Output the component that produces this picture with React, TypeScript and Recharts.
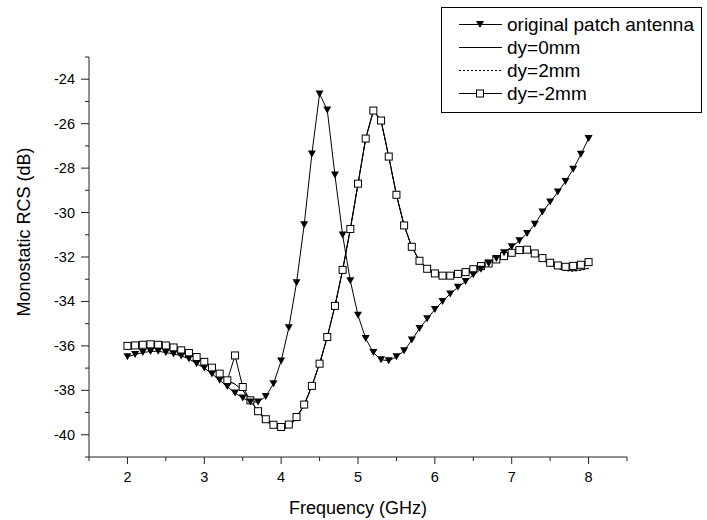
import React from "react";
import { LineChart, Line, XAxis, YAxis, Legend } from "recharts";

const FONT = '"Liberation Sans", Arial, Helvetica, sans-serif';

// frequency in GHz
const freq = [
  2.0, 2.1, 2.2, 2.3, 2.4, 2.5, 2.6, 2.7, 2.8, 2.9,
  3.0, 3.1, 3.2, 3.3, 3.4, 3.5, 3.6, 3.7, 3.8, 3.9,
  4.0, 4.1, 4.2, 4.3, 4.4, 4.5, 4.6, 4.7, 4.8, 4.9,
  5.0, 5.1, 5.2, 5.3, 5.4, 5.5, 5.6, 5.7, 5.8, 5.9,
  6.0, 6.1, 6.2, 6.3, 6.4, 6.5, 6.6, 6.7, 6.8, 6.9,
  7.0, 7.1, 7.2, 7.3, 7.4, 7.5, 7.6, 7.7, 7.8, 7.9,
  8.0,
];

const original = [
  -36.49, -36.39, -36.3, -36.25, -36.24, -36.3, -36.36, -36.45, -36.58, -36.8,
  -37.0, -37.26, -37.55, -37.83, -38.12, -38.34, -38.52, -38.52, -38.28, -37.7,
  -36.68, -35.18, -33.16, -30.55, -27.36, -24.66, -25.38, -28.31, -31.01, -33.07,
  -34.62, -35.67, -36.3, -36.62, -36.67, -36.49, -36.22, -35.74, -35.22, -34.78,
  -34.36, -34.0, -33.66, -33.36, -33.1, -32.8, -32.55, -32.29, -32.07, -31.81,
  -31.54, -31.27, -30.94, -30.53, -29.98, -29.53, -29.08, -28.6, -28.05, -27.38,
  -26.67,
];

const dy0 = [
  -36.0, -35.98, -35.95, -35.93, -35.95, -35.98, -36.07, -36.2, -36.32, -36.5,
  -36.72, -36.98, -37.25, -37.55, -37.72, -38.0, -38.45, -38.96, -39.34, -39.64,
  -39.76, -39.64, -39.25, -38.66, -37.8, -36.8, -35.6, -34.2, -32.58, -30.74,
  -28.7, -26.67, -25.41, -25.86, -27.48, -29.2, -30.58, -31.54, -32.17, -32.53,
  -32.74, -32.84, -32.84, -32.76, -32.68, -32.55, -32.41, -32.29, -32.11, -31.96,
  -31.81, -31.69, -31.68, -31.86, -32.1, -32.34, -32.5, -32.6, -32.62, -32.58,
  -32.5,
];

const dy2 = [
  -36.01, -35.99, -35.96, -35.94, -35.96, -35.99, -36.08, -36.21, -36.33, -36.51,
  -36.73, -36.99, -37.26, -37.56, -37.73, -38.01, -38.46, -38.97, -39.35, -39.66,
  -39.78, -39.66, -39.27, -38.68, -37.83, -36.83, -35.63, -34.24, -32.62, -30.78,
  -28.74, -26.7, -25.44, -25.88, -27.5, -29.22, -30.6, -31.56, -32.19, -32.55,
  -32.76, -32.86, -32.86, -32.78, -32.7, -32.57, -32.43, -32.31, -32.13, -31.98,
  -31.83, -31.71, -31.7, -31.88, -32.12, -32.36, -32.52, -32.62, -32.64, -32.6,
  -32.52,
];

const dyNeg2 = [
  -36.0, -35.98, -35.95, -35.93, -35.95, -35.98, -36.07, -36.2, -36.32, -36.5,
  -36.72, -36.98, -37.25, -37.55, -36.43, -37.85, -38.45, -38.94, -39.3, -39.55,
  -39.65, -39.54, -39.2, -38.64, -37.8, -36.8, -35.6, -34.2, -32.58, -30.74,
  -28.7, -26.67, -25.41, -25.86, -27.48, -29.2, -30.58, -31.54, -32.17, -32.53,
  -32.74, -32.84, -32.84, -32.76, -32.68, -32.55, -32.41, -32.29, -32.11, -31.96,
  -31.81, -31.69, -31.67, -31.84, -32.05, -32.26, -32.38, -32.44, -32.4, -32.35,
  -32.23,
];

const xTicks = [1.5, 2, 2.5, 3, 3.5, 4, 4.5, 5, 5.5, 6, 6.5, 7, 7.5, 8, 8.5];
const yTicks = [
  -41, -40, -39, -38, -37, -36, -35, -34, -33, -32, -31, -30, -29, -28, -27, -26, -25, -24, -23,
];

const data = freq.map((f, i) => ({
  f,
  original: original[i],
  dy0: dy0[i],
  dy2: dy2[i],
  dyNeg2: dyNeg2[i],
}));

function XTick(props: any) {
  const { x, y, payload } = props;
  const major = Number.isInteger(payload.value);
  return (
    <g>
      <line x1={x} y1={y} x2={x} y2={y + (major ? 7 : 4)} stroke="#222" />
      {major && (
        <text x={x} y={y + 25} textAnchor="middle" fontSize={14.5} fontFamily={FONT} fill="#000">
          {payload.value}
        </text>
      )}
    </g>
  );
}

function YTick(props: any) {
  const { x, y, payload } = props;
  const major = payload.value % 2 === 0;
  return (
    <g>
      <line x1={x} y1={y} x2={x - (major ? 8 : 4)} y2={y} stroke="#222" />
      {major && (
        <text x={x - 14} y={y + 5} textAnchor="end" fontSize={14.5} fontFamily={FONT} fill="#000">
          {payload.value}
        </text>
      )}
    </g>
  );
}

function YTitle(props: any) {
  const vb = props.viewBox || { x: 88, y: 57, width: 1, height: 400 };
  const cx = vb.x + vb.width - 59;
  const cy = vb.y + vb.height / 2 - 25;
  return (
    <text
      x={cx}
      y={cy}
      transform={`rotate(-90, ${cx}, ${cy})`}
      textAnchor="middle"
      fontSize={18}
      fontFamily={FONT}
      fill="#000"
    >
      Monostatic RCS (dB)
    </text>
  );
}

function XTitle(props: any) {
  const vb = props.viewBox || { x: 89, y: 457, width: 538 };
  return (
    <text
      x={vb.x + vb.width / 2}
      y={vb.y + 57}
      textAnchor="middle"
      fontSize={18}
      fontFamily={FONT}
      fill="#000"
    >
      Frequency (GHz)
    </text>
  );
}

function Square(props: any) {
  const { cx, cy, index } = props;
  if (cx == null || cy == null) return <g key={index} />;
  return <rect key={index} x={cx - 3.5} y={cy - 3.5} width={7} height={7} fill="#fff" stroke="#000" strokeWidth={1} />;
}

function Tri(props: any) {
  const { cx, cy, index } = props;
  if (cx == null || cy == null) return <g key={index} />;
  return <path key={index} d={`M${cx - 4},${cy - 3.5} L${cx + 4},${cy - 3.5} L${cx},${cy + 3.5} Z`} fill="#000" />;
}

const legendRows = [
  { name: "original patch antenna", kind: "tri" },
  { name: "dy=0mm", kind: "solid" },
  { name: "dy=2mm", kind: "dot" },
  { name: "dy=-2mm", kind: "square" },
];

function LegendBox() {
  return (
    <svg width={262} height={107} style={{ display: "block" }}>
      <rect x={0.5} y={0.5} width={260} height={105} fill="#fff" stroke="#000" />
      {legendRows.map((r, i) => {
        const ly = 17.5 + i * 23;
        return (
          <g key={r.name}>
            <line
              x1={18}
              x2={61}
              y1={ly}
              y2={ly}
              stroke="#000"
              strokeWidth={1}
              strokeDasharray={r.kind === "dot" ? "2 2" : undefined}
            />
            {r.kind === "tri" && <Tri cx={39} cy={ly} index={0} />}
            {r.kind === "square" && <Square cx={39} cy={ly} index={0} />}
            <text x={66} y={ly + 6.5} fontSize={19} fontFamily={FONT} fill="#000">
              {r.name}
            </text>
          </g>
        );
      })}
    </svg>
  );
}

export default function App() {
  return (
    <div style={{ position: "absolute", left: 0, top: 0, width: 707, height: 520, background: "#fff" }}>
      <LineChart
        width={707}
        height={520}
        data={data}
        margin={{ top: 57, right: 80, bottom: 62, left: 88 }}
      >
        <XAxis
          dataKey="f"
          type="number"
          domain={[1.5, 8.5]}
          ticks={xTicks}
          interval={0}
          height={1}
          tickSize={0}
          tickMargin={0}
          tickLine={false}
          tick={<XTick />}
          axisLine={{ stroke: "#222" }}
          label={{ content: <XTitle /> }}
        />
        <YAxis
          type="number"
          domain={[-41, -23]}
          ticks={yTicks}
          interval={0}
          width={1}
          tickSize={0}
          tickMargin={0}
          tickLine={false}
          tick={<YTick />}
          axisLine={{ stroke: "#222" }}
          label={{ content: <YTitle /> }}
        />
        <Legend
          layout="vertical"
          align="center"
          verticalAlign="middle"
          content={<LegendBox />}
          wrapperStyle={{ left: 441, top: 7, width: 262, height: 107 }}
        />
        <Line dataKey="dy0" stroke="#000" strokeWidth={1} dot={false} isAnimationActive={false} />
        <Line dataKey="dy2" stroke="#000" strokeWidth={1} strokeDasharray="2 2" dot={false} isAnimationActive={false} />
        <Line dataKey="dyNeg2" stroke="#000" strokeWidth={1} dot={Square} activeDot={false} isAnimationActive={false} />
        <Line dataKey="original" stroke="#000" strokeWidth={1} dot={Tri} activeDot={false} isAnimationActive={false} />
      </LineChart>
    </div>
  );
}
